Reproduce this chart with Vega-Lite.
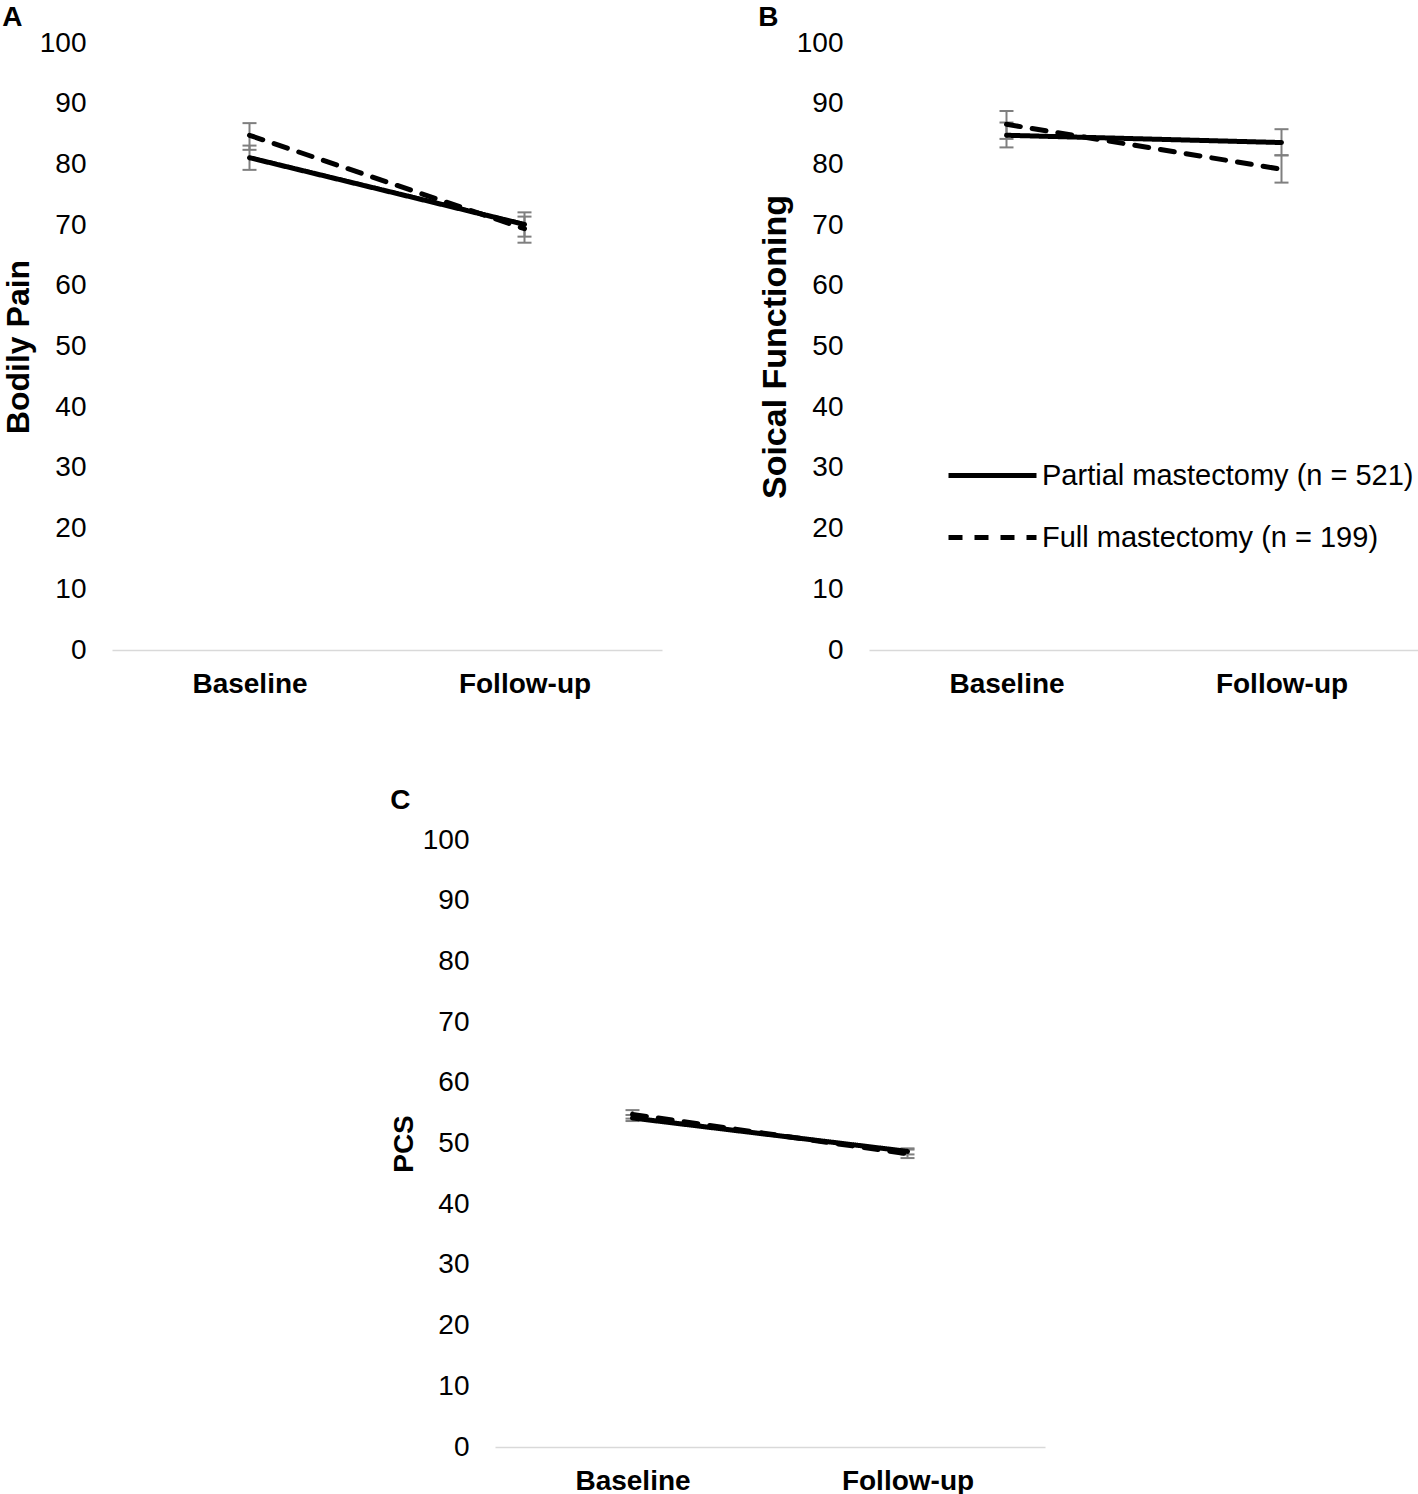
{
  "$schema": "https://vega.github.io/schema/vega-lite/v6.json",
  "background": "white",
  "padding": {"left": 2, "top": 4, "right": 0, "bottom": 0},
  "config": {
    "view": {"stroke": null},
    "font": "Liberation Sans",
    "axisX": {"domainColor": "#d9d9d9", "domainWidth": 1.5, "ticks": false, "grid": false, "labelFontSize": 28, "labelFontWeight": "bold", "labelColor": "black", "labelPadding": 20, "labelAngle": 0, "title": null},
    "axisY": {"domain": false, "ticks": false, "grid": false, "labelFontSize": 28, "labelColor": "black", "labelPadding": 26, "titleFontSize": 32, "titleFontWeight": "bold", "titleColor": "black", "titlePadding": 4},
    "title": {"fontSize": 28, "fontWeight": "bold", "color": "black", "anchor": "start", "frame": "bounds", "offset": -3}
  },
  "datasets": {
    "d": [
      {"panel": "A", "time": "Baseline", "group": "Partial mastectomy (n = 521)", "mean": 81.1, "lower": 79.1, "upper": 83.1},
      {"panel": "A", "time": "Follow-up", "group": "Partial mastectomy (n = 521)", "mean": 70.1, "lower": 68.1, "upper": 72.1},
      {"panel": "A", "time": "Baseline", "group": "Full mastectomy (n = 199)", "mean": 84.8, "lower": 82.4, "upper": 86.8},
      {"panel": "A", "time": "Follow-up", "group": "Full mastectomy (n = 199)", "mean": 69.4, "lower": 67.1, "upper": 71.4},
      {"panel": "B", "time": "Baseline", "group": "Partial mastectomy (n = 521)", "mean": 84.8, "lower": 82.8, "upper": 86.9},
      {"panel": "B", "time": "Follow-up", "group": "Partial mastectomy (n = 521)", "mean": 83.6, "lower": 81.5, "upper": 85.8},
      {"panel": "B", "time": "Baseline", "group": "Full mastectomy (n = 199)", "mean": 86.6, "lower": 84.2, "upper": 88.8},
      {"panel": "B", "time": "Follow-up", "group": "Full mastectomy (n = 199)", "mean": 79.2, "lower": 77.0, "upper": 81.5},
      {"panel": "C", "time": "Baseline", "group": "Partial mastectomy (n = 521)", "mean": 54.2, "lower": 53.7, "upper": 54.7},
      {"panel": "C", "time": "Follow-up", "group": "Partial mastectomy (n = 521)", "mean": 48.7, "lower": 48.2, "upper": 49.2},
      {"panel": "C", "time": "Baseline", "group": "Full mastectomy (n = 199)", "mean": 54.8, "lower": 54.1, "upper": 55.5},
      {"panel": "C", "time": "Follow-up", "group": "Full mastectomy (n = 199)", "mean": 48.3, "lower": 47.6, "upper": 49.0}
    ]
  },
  "resolve": {"scale": {"strokeDash": "independent"}, "legend": {"strokeDash": "independent"}},
  "spacing": 89,
  "align": "none",
  "vconcat": [
    {
      "spacing": 96,
      "align": "none",
      "resolve": {"scale": {"strokeDash": "independent"}, "legend": {"strokeDash": "independent"}},
      "hconcat": [
        {
          "width": 550, "height": 607,
          "title": {"text": "A"},
          "data": {"name": "d"},
          "transform": [{"filter": "datum.panel === 'A'"}],
          "encoding": {"x": {"field": "time", "type": "nominal", "sort": ["Baseline", "Follow-up"], "scale": {"type": "point", "padding": 0.5}}},
          "layer": [
            {"mark": {"type": "rule", "color": "#7f7f7f", "strokeWidth": 2}, "encoding": {"y": {"field": "lower", "type": "quantitative", "title": "Bodily Pain", "scale": {"domain": [0, 100], "nice": false}, "axis": {"values": [0,10,20,30,40,50,60,70,80,90,100]}}, "y2": {"field": "upper"}, "detail": {"field": "group"}}},
            {"mark": {"type": "tick", "color": "#7f7f7f", "thickness": 2, "size": 14, "opacity": 1}, "encoding": {"y": {"field": "lower", "type": "quantitative", "title": "Bodily Pain", "axis": {"values": [0,10,20,30,40,50,60,70,80,90,100]}}, "detail": {"field": "group"}}},
            {"mark": {"type": "tick", "color": "#7f7f7f", "thickness": 2, "size": 14, "opacity": 1}, "encoding": {"y": {"field": "upper", "type": "quantitative", "title": "Bodily Pain", "axis": {"values": [0,10,20,30,40,50,60,70,80,90,100]}}, "detail": {"field": "group"}}},
            {"mark": {"type": "line", "color": "black", "strokeWidth": 5, "strokeCap": "round"}, "encoding": {"y": {"field": "mean", "type": "quantitative", "title": "Bodily Pain", "axis": {"values": [0,10,20,30,40,50,60,70,80,90,100]}}, "strokeDash": {"field": "group", "type": "nominal", "scale": {"domain": ["Partial mastectomy (n = 521)", "Full mastectomy (n = 199)"], "range": [[1, 0], [14, 12]]}, "legend": null}}}
          ]
        },
        {
          "width": 550, "height": 607,
          "title": {"text": "B"},
          "data": {"name": "d"},
          "transform": [{"filter": "datum.panel === 'B'"}],
          "encoding": {"x": {"field": "time", "type": "nominal", "sort": ["Baseline", "Follow-up"], "scale": {"type": "point", "padding": 0.5}}},
          "layer": [
            {"mark": {"type": "rule", "color": "#7f7f7f", "strokeWidth": 2}, "encoding": {"y": {"field": "lower", "type": "quantitative", "title": "Soical Functioning", "scale": {"domain": [0, 100], "nice": false}, "axis": {"values": [0,10,20,30,40,50,60,70,80,90,100], "titleFontSize": 34}}, "y2": {"field": "upper"}, "detail": {"field": "group"}}},
            {"mark": {"type": "tick", "color": "#7f7f7f", "thickness": 2, "size": 14, "opacity": 1}, "encoding": {"y": {"field": "lower", "type": "quantitative", "title": "Soical Functioning", "axis": {"values": [0,10,20,30,40,50,60,70,80,90,100], "titleFontSize": 34}}, "detail": {"field": "group"}}},
            {"mark": {"type": "tick", "color": "#7f7f7f", "thickness": 2, "size": 14, "opacity": 1}, "encoding": {"y": {"field": "upper", "type": "quantitative", "title": "Soical Functioning", "axis": {"values": [0,10,20,30,40,50,60,70,80,90,100], "titleFontSize": 34}}, "detail": {"field": "group"}}},
            {"mark": {"type": "line", "color": "black", "strokeWidth": 5, "strokeCap": "round"}, "encoding": {"y": {"field": "mean", "type": "quantitative", "title": "Soical Functioning", "axis": {"values": [0,10,20,30,40,50,60,70,80,90,100], "titleFontSize": 34}}, "strokeDash": {"field": "group", "type": "nominal", "scale": {"domain": ["Partial mastectomy (n = 521)", "Full mastectomy (n = 199)"], "range": [[1, 0], [14, 12]]}, "legend": {"orient": "none", "legendX": 77, "legendY": 386, "title": null, "symbolType": "stroke", "symbolSize": 7744, "symbolStrokeWidth": 5, "symbolStrokeColor": "black", "labelFontSize": 29, "labelColor": "black", "labelOffset": 3, "labelLimit": 600, "rowPadding": -3}}}}
          ]
        }
      ]
    },
    {
      "spacing": 0,
      "align": "none",
      "resolve": {"scale": {"strokeDash": "independent"}, "legend": {"strokeDash": "independent"}},
      "hconcat": [
        {"width": 278, "height": 1, "data": {"values": [{}]}, "mark": {"type": "point", "opacity": 0}, "encoding": {}, "view": {"fill": "white", "stroke": null}},
        {
          "width": 550, "height": 607,
          "title": {"text": "C", "offset": 11},
          "data": {"name": "d"},
          "transform": [{"filter": "datum.panel === 'C'"}],
          "encoding": {"x": {"field": "time", "type": "nominal", "sort": ["Baseline", "Follow-up"], "scale": {"type": "point", "padding": 0.5}}},
          "layer": [
            {"mark": {"type": "rule", "color": "#7f7f7f", "strokeWidth": 2}, "encoding": {"y": {"field": "lower", "type": "quantitative", "title": "PCS", "scale": {"domain": [0, 100], "nice": false}, "axis": {"values": [0,10,20,30,40,50,60,70,80,90,100], "titleFontSize": 28}}, "y2": {"field": "upper"}, "detail": {"field": "group"}}},
            {"mark": {"type": "tick", "color": "#7f7f7f", "thickness": 2, "size": 14, "opacity": 1}, "encoding": {"y": {"field": "lower", "type": "quantitative", "title": "PCS", "axis": {"values": [0,10,20,30,40,50,60,70,80,90,100], "titleFontSize": 28}}, "detail": {"field": "group"}}},
            {"mark": {"type": "tick", "color": "#7f7f7f", "thickness": 2, "size": 14, "opacity": 1}, "encoding": {"y": {"field": "upper", "type": "quantitative", "title": "PCS", "axis": {"values": [0,10,20,30,40,50,60,70,80,90,100], "titleFontSize": 28}}, "detail": {"field": "group"}}},
            {"mark": {"type": "line", "color": "black", "strokeWidth": 5, "strokeCap": "round"}, "encoding": {"y": {"field": "mean", "type": "quantitative", "title": "PCS", "axis": {"values": [0,10,20,30,40,50,60,70,80,90,100], "titleFontSize": 28}}, "strokeDash": {"field": "group", "type": "nominal", "scale": {"domain": ["Partial mastectomy (n = 521)", "Full mastectomy (n = 199)"], "range": [[1, 0], [14, 12]]}, "legend": null}}}
          ]
        }
      ]
    }
  ]
}
